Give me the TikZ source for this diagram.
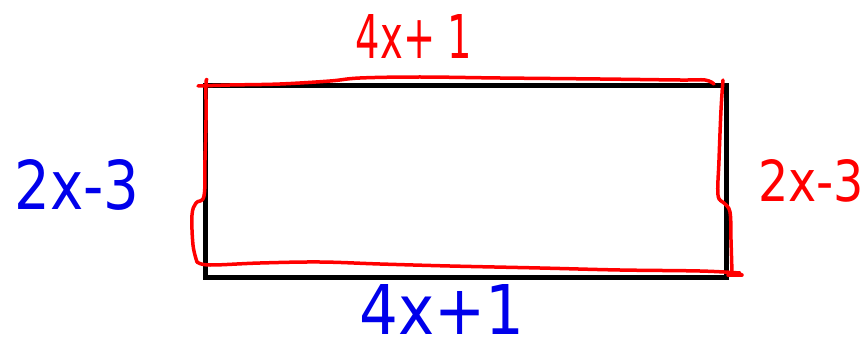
\documentclass[tikz,border=0pt]{standalone}
\usepackage{fontspec}
\setmainfont{DejaVu Sans}
\usepackage{graphicx}
\definecolor{penred}{RGB}{255,0,0}
\definecolor{penblue}{RGB}{0,0,235}
\begin{document}
\begin{tikzpicture}[x=1pt,y=-1pt,
  redpen/.style={draw=penred,line width=3.5pt,line cap=round,line join=round},
  lbl/.style={inner sep=0pt,anchor=center}]
\useasboundingbox (0,0) rectangle (867,342);
% black rectangle
\node[draw=black,line width=5pt,inner sep=0pt,minimum width=521pt,minimum height=192pt,anchor=north west] (rect) at (203,83) {};
% red hand-drawn outline
\draw[redpen] plot[smooth,tension=0.6] coordinates {(198,86)(230,85)(280,84)(330,81)(360,78)(420,77)(500,78)(600,79)(680,80)(705,80)(714,84)};
\draw[redpen] plot[smooth,tension=0.6] coordinates {(723,80)(721,110)(719,160)(718,195)(724,203)(730,212)(731,240)(732,273)};
\draw[redpen] (728,275) -- (742,275);
\draw[redpen] plot[smooth,tension=0.6] coordinates {(740,273)(700,271)(620,270)(540,268)(450,266)(380,264)(320,262)(260,263)(210,265)(197,262)};
\draw[redpen] plot[smooth,tension=0.6] coordinates {(197,262)(193,245)(192,215)(196,203)(204,196)(205,160)(206,120)(206,84)(207,80)};
% labels
\node[lbl,text=penred] (top) at (414,36) {\resizebox{116pt}{44pt}{4x+ 1}};
\node[lbl,text=penblue] (left) at (77,185) {\resizebox{125pt}{50pt}{2x-3}};
\node[lbl,text=penred] (right) at (811,181) {\resizebox{106pt}{42pt}{2x-3}};
\node[lbl,text=penblue] (bottom) at (442,309) {\resizebox{165pt}{50pt}{4x+1}};
\end{tikzpicture}
\end{document}
